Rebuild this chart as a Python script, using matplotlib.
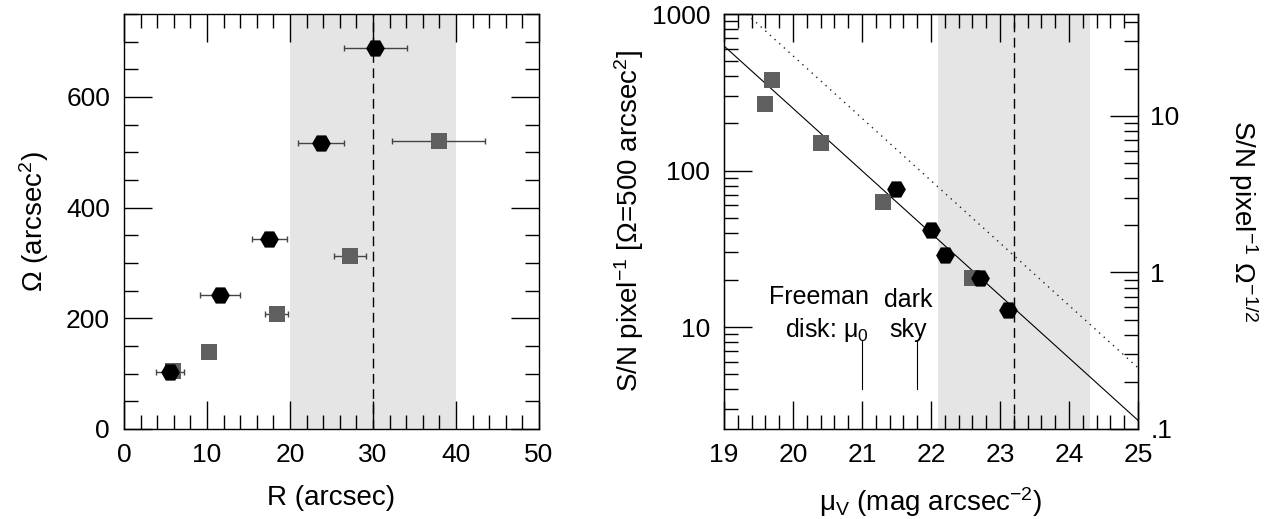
import numpy as np
import matplotlib
matplotlib.use("Agg")
import matplotlib.pyplot as plt
from matplotlib.ticker import MultipleLocator, FixedLocator, FuncFormatter, NullFormatter, LogLocator

plt.rcParams['font.family'] = ['Liberation Sans', 'DejaVu Sans']
plt.rcParams['mathtext.fontset'] = 'custom'
plt.rcParams['mathtext.rm'] = 'Liberation Sans'
plt.rcParams['mathtext.it'] = 'Liberation Sans:italic'
plt.rcParams['mathtext.sf'] = 'Liberation Sans'

# left panel: aperture size vs radius
hex_r = [5.5, 11.6, 17.5, 23.7, 30.3]
hex_r_err = [1.7, 2.4, 2.1, 2.75, 3.85]
hex_omega = [103, 242, 344, 516, 689]
sq_r = [5.9, 10.3, 18.4, 27.2, 37.9]
sq_r_err = [0, 0, 1.4, 1.95, 5.6]
sq_omega = [104, 139, 207, 312, 520]
r_band = [20, 40]
r_mark = 30

# right panel: S/N vs surface brightness
sq_mu = [19.60, 19.70, 20.40, 21.31, 22.59]
sq_sn = [265, 377, 150, 63.4, 20.6]
hex_mu = [21.50, 22.00, 22.20, 22.71, 23.11]
hex_sn = [76, 41.9, 29.0, 20.6, 12.8]
fit_mu = [19.0, 25.0]
fit_sn = [625, 2.54]
sky_mu = [19.33, 25.0]
sky_sn = [1000, 5.5]
mu_band = [22.1, 24.3]
mu_mark = 23.2
freeman_mu = 21.0
darksky_mu = 21.8
mark_sn = [4.0, 8.2]
omega_ref = 500.0

HEX_COLOR = 'black'
SQ_COLOR = '#5f5f5f'
SHADE = '#e5e5e5'
FS_TICK = 19
FS_LABEL = 20


def style_ticks(ax, right=True):
    ax.tick_params(which='both', direction='in', top=True, right=right,
                   width=1.0, labelsize=FS_TICK, pad=10)
    ax.tick_params(which='major', length=20)
    ax.tick_params(which='minor', length=10)
    for s in ax.spines.values():
        s.set_linewidth(1.0)


def main():
    fig = plt.figure(figsize=(12.71, 5.19), dpi=100)
    ax1 = fig.add_axes([124 / 1271, 90 / 519, 415 / 1271, 415 / 519])
    ax2 = fig.add_axes([724 / 1271, 90 / 519, 414 / 1271, 415 / 519])

    # ---- left panel
    ax1.axvspan(r_band[0], r_band[1], color=SHADE, lw=0, zorder=0)
    ax1.axvline(r_mark, color='black', lw=1.0, dashes=(7, 4), zorder=1)

    sq_r_a = np.asarray(sq_r)
    sq_e = np.asarray(sq_r_err)
    m = sq_e > 0
    ax1.errorbar(sq_r_a[m], np.asarray(sq_omega)[m], xerr=sq_e[m], fmt='none',
                 ecolor='#444444', elinewidth=1.0, capsize=2.5, capthick=1.0, zorder=2)
    ax1.errorbar(hex_r, hex_omega, xerr=hex_r_err, fmt='none',
                 ecolor='#444444', elinewidth=1.0, capsize=2.5, capthick=1.0, zorder=2)
    ax1.plot(sq_r, sq_omega, ls='none', marker='s', ms=12, color=SQ_COLOR, mew=0, zorder=3)
    ax1.plot(hex_r, hex_omega, ls='none', marker='H', ms=13.5, color=HEX_COLOR, mew=0, zorder=4)

    ax1.set_xlim(0, 50)
    ax1.set_ylim(0, 750)
    ax1.xaxis.set_major_locator(MultipleLocator(10))
    ax1.xaxis.set_minor_locator(MultipleLocator(2))
    ax1.yaxis.set_major_locator(FixedLocator([0, 200, 400, 600]))
    ax1.yaxis.set_minor_locator(MultipleLocator(50))
    style_ticks(ax1)
    ax1.set_xlabel('R (arcsec)', fontsize=FS_LABEL, labelpad=13)
    ax1.set_ylabel('Ω (arcsec$^{2}$)', fontsize=FS_LABEL, labelpad=11)

    # ---- right panel
    ax2.axvspan(mu_band[0], mu_band[1], color=SHADE, lw=0, zorder=0)
    ax2.axvline(mu_mark, color='black', lw=1.0, dashes=(7, 4), zorder=1)
    ax2.plot(fit_mu, fit_sn, color='black', lw=0.8, zorder=2)
    ax2.plot(sky_mu, sky_sn, color='#222222', lw=1.0, ls=(0, (1, 3.5)), zorder=2)
    ax2.plot(sq_mu, sq_sn, ls='none', marker='s', ms=12, color=SQ_COLOR, mew=0, zorder=3)
    ax2.plot(hex_mu, hex_sn, ls='none', marker='H', ms=13.5, color=HEX_COLOR, mew=0, zorder=4)

    ax2.plot([freeman_mu, freeman_mu], mark_sn, color='black', lw=0.8)
    ax2.plot([darksky_mu, darksky_mu], mark_sn, color='black', lw=0.8)
    ax2.text(21.1, 8.7, 'Freeman\ndisk: μ$_{0}$', ha='right', va='baseline',
             multialignment='right', fontsize=18, linespacing=1.3)
    ax2.text(21.67, 8.7, 'dark\nsky', ha='center', va='baseline',
             multialignment='center', fontsize=18, linespacing=1.3)

    ax2.set_yscale('log')
    ylo = 0.1 * np.sqrt(omega_ref)
    ax2.set_xlim(19, 25)
    ax2.set_ylim(ylo, 1000)
    ax2.xaxis.set_major_locator(MultipleLocator(1))
    ax2.xaxis.set_minor_locator(MultipleLocator(0.2))
    ax2.yaxis.set_major_locator(FixedLocator([10, 100, 1000]))
    ax2.yaxis.set_minor_locator(LogLocator(base=10, subs=np.arange(2, 10)))
    ax2.yaxis.set_major_formatter(FuncFormatter(lambda v, p: f'{v:g}'))
    ax2.yaxis.set_minor_formatter(NullFormatter())
    style_ticks(ax2, right=False)
    ax2.set_xlabel('μ$_{\\mathrm{V}}$ (mag arcsec$^{-2}$)', fontsize=FS_LABEL, labelpad=13)
    ax2.set_ylabel('S/N pixel$^{-1}$ [Ω=500 arcsec$^{2}$]', fontsize=FS_LABEL, labelpad=4)

    # per-arcsec scale on the right
    ax3 = ax2.twinx()
    ax3.set_yscale('log')
    ax3.set_ylim(ylo / np.sqrt(omega_ref), 1000 / np.sqrt(omega_ref))
    ax3.yaxis.set_major_locator(FixedLocator([0.1, 1, 10]))
    ax3.yaxis.set_minor_locator(LogLocator(base=10, subs=np.arange(2, 10)))
    ax3.yaxis.set_major_formatter(FuncFormatter(lambda v, p: f'{v:g}'.lstrip('0')))
    ax3.yaxis.set_minor_formatter(NullFormatter())
    ax3.tick_params(which='both', direction='in', width=1.0, labelsize=FS_TICK, pad=9)
    ax3.tick_params(which='major', length=20)
    ax3.tick_params(which='minor', length=10)
    ax3.set_ylabel('S/N pixel$^{-1}$ Ω$^{-1/2}$', fontsize=FS_LABEL,
                   rotation=270, va='bottom', labelpad=33)

    fig.savefig('out.png', dpi=100)


if __name__ == "__main__":
    main()
